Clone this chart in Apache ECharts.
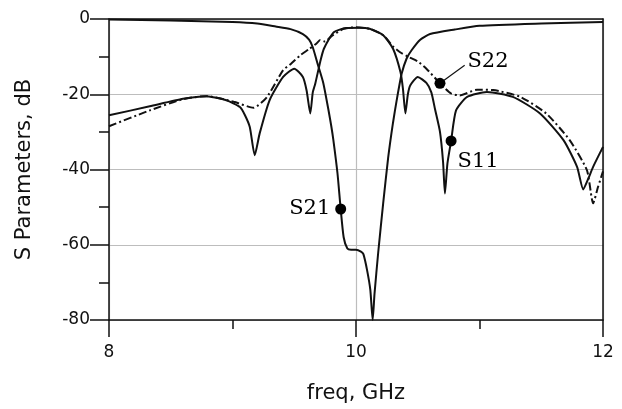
<!DOCTYPE html>
<html>
<head>
<meta charset="utf-8">
<script src="https://cdn.jsdelivr.net/npm/echarts@6/dist/echarts.min.js"></script>
<style>
html,body{margin:0;padding:0;background:#fff;}
#c{width:622px;height:409px;}
</style>
</head>
<body>
<div id="c"></div>
<script>
// S11 (solid)
const s11Freq = [8.0, 8.33, 8.6, 8.79, 8.95, 9.06, 9.10, 9.14, 9.18, 9.22, 9.30, 9.41, 9.50, 9.57, 9.60, 9.63, 9.65, 9.67, 9.71, 9.74, 9.82, 9.92, 10.03, 10.11, 10.22, 10.30, 10.36, 10.38, 10.40, 10.42, 10.44, 10.50, 10.57, 10.61, 10.64, 10.68, 10.705, 10.72, 10.74, 10.77, 10.81, 10.9, 11.06, 11.27, 11.49, 11.68, 11.79, 11.84, 11.88, 11.92, 12.0];
const s11dB   = [-25.6, -23.2, -21.2, -20.5, -21.6, -23.4, -25.5, -28.7, -36.2, -30.4, -21.6, -15.4, -13.2, -15.4, -19, -25.1, -19.5, -17.2, -11.4, -7.9, -3.5, -2.4, -2.3, -2.6, -4.3, -7.9, -14.1, -18.5, -25.1, -20, -17.6, -15.4, -17, -19.5, -24, -30, -38, -46.4, -38.5, -32.4, -24.3, -20.7, -19.4, -20.7, -25.1, -32.2, -39.3, -45.3, -42.5, -39.3, -34];
// S21 (solid)
const s21Freq = [8.0, 8.5, 9.0, 9.2, 9.35, 9.47, 9.57, 9.62, 9.65, 9.69, 9.735, 9.776, 9.80, 9.816, 9.85, 9.876, 9.90, 9.93, 9.96, 10.0, 10.04, 10.06, 10.09, 10.116, 10.135, 10.15, 10.18, 10.22, 10.26, 10.30, 10.33, 10.37, 10.41, 10.45, 10.52, 10.6, 10.8, 11.0, 11.5, 12.0];
const s21dB   = [-0.1, -0.4, -0.8, -1.2, -2.0, -2.7, -4.0, -5.5, -7.5, -12, -17, -24, -28.5, -32, -41, -50.5, -58, -61, -61.3, -61.3, -61.8, -62.5, -66.8, -72, -80, -73, -62, -49, -37, -27.5, -21.5, -14.5, -10.5, -8.3, -5.5, -4.0, -2.8, -1.8, -1.2, -0.8];
// S22 (dash-dot)
const s22Freq = [8.0, 8.33, 8.6, 8.79, 9.01, 9.17, 9.28, 9.41, 9.47, 9.55, 9.62, 9.68, 9.71, 9.75, 9.8, 9.9, 10.0, 10.11, 10.22, 10.30, 10.36, 10.42, 10.50, 10.57, 10.68, 10.77, 10.84, 10.98, 11.11, 11.33, 11.54, 11.73, 11.87, 11.92, 11.96, 12.0];
const s22dB   = [-28.5, -24.3, -21.3, -20.5, -22, -23.6, -20.7, -13.6, -12, -9.6, -8, -6.5, -5.6, -6.0, -4.6, -2.6, -2.2, -2.6, -4.3, -7.3, -8.9, -10, -11.3, -13.2, -17.1, -19.8, -20.3, -18.8, -18.9, -20.7, -25.1, -32.2, -40.2, -49, -44.6, -40.5];

// markers
const markerNames = ['S11', 'S21', 'S22'];
const markerFreq  = [10.77, 9.876, 10.68];
const markerDB    = [-32.4, -50.5, -17.1];
const leaderFreq  = [10.68, 10.88];
const leaderDB    = [-17.1, -12.3];

// axes
const xMin = 8, xMax = 12, xStep = 2;
const yMin = -80, yMax = 0, yStep = 20;

const zip = (a, b) => a.map((v, i) => [v, b[i]]);
const labelOffsets = {S11: [27, 21], S21: [-31, 0], S22: [48, -22]};

function markFor(name) {
  const i = markerNames.indexOf(name);
  return {
    symbol: 'circle', symbolSize: 11, silent: true,
    itemStyle: {color: '#000'},
    label: {show: true, formatter: name, position: 'inside', offset: labelOffsets[name],
            color: '#000', fontFamily: 'DejaVu Serif', fontSize: 21},
    data: [{coord: [markerFreq[i], markerDB[i]]}]
  };
}

const chart = echarts.init(document.getElementById('c'), null, {renderer: 'canvas'});
const black = '#111';
chart.setOption({
  animation: false,
  backgroundColor: '#fff',
  grid: {left: 109, right: 19, top: 19, bottom: 89},
  xAxis: [{
    type: 'value', min: xMin, max: xMax, interval: xStep, position: 'bottom',
    name: 'freq, GHz', nameLocation: 'middle', nameGap: 63,
    nameTextStyle: {fontFamily: 'DejaVu Sans', fontSize: 21, color: black},
    axisLine: {show: true, onZero: false, lineStyle: {color: black, width: 1.5}},
    axisTick: {show: true, length: 17, lineStyle: {color: black, width: 1.5}},
    minorTick: {show: true, splitNumber: 2, length: 9, lineStyle: {color: black, width: 1.5}},
    axisLabel: {margin: 24, fontFamily: 'DejaVu Sans', fontSize: 17, color: black},
    splitLine: {show: true, lineStyle: {color: '#bdbdbd', width: 1.2}}
  }, {
    type: 'value', min: xMin, max: xMax, position: 'top',
    axisLine: {show: true, onZero: false, lineStyle: {color: black, width: 1.5}},
    axisTick: {show: false}, axisLabel: {show: false}, splitLine: {show: false}
  }],
  yAxis: [{
    type: 'value', min: yMin, max: yMax, interval: yStep, position: 'left',
    name: 'S Parameters, dB', nameLocation: 'middle', nameGap: 74,
    nameTextStyle: {fontFamily: 'DejaVu Sans', fontSize: 21, color: black},
    axisLine: {show: true, onZero: false, lineStyle: {color: black, width: 1.5}},
    axisTick: {show: true, length: 19, lineStyle: {color: black, width: 1.5}},
    minorTick: {show: true, splitNumber: 2, length: 10, lineStyle: {color: black, width: 1.5}},
    axisLabel: {margin: 19, fontFamily: 'DejaVu Sans', fontSize: 17, color: black},
    splitLine: {show: true, lineStyle: {color: '#bdbdbd', width: 1.2}}
  }, {
    type: 'value', min: yMin, max: yMax, position: 'right',
    axisLine: {show: true, onZero: false, lineStyle: {color: black, width: 1.5}},
    axisTick: {show: false}, axisLabel: {show: false}, splitLine: {show: false}
  }],
  series: [
    {name: 'S21', type: 'line', data: zip(s21Freq, s21dB), showSymbol: false, smooth: 0.2,
     lineStyle: {color: black, width: 2}, markPoint: markFor('S21'), z: 3},
    {name: 'S11', type: 'line', data: zip(s11Freq, s11dB), showSymbol: false, smooth: 0.2,
     lineStyle: {color: black, width: 2}, markPoint: markFor('S11'), z: 3},
    {name: 'S22', type: 'line', data: zip(s22Freq, s22dB), showSymbol: false, smooth: 0.2,
     lineStyle: {color: black, width: 2, type: [8, 3, 2, 3]}, markPoint: markFor('S22'), z: 3},
    {name: 'leader', type: 'line', data: zip(leaderFreq, leaderDB), showSymbol: false,
     lineStyle: {color: black, width: 1.2}, z: 3}
  ]
});
</script>
</body>
</html>
